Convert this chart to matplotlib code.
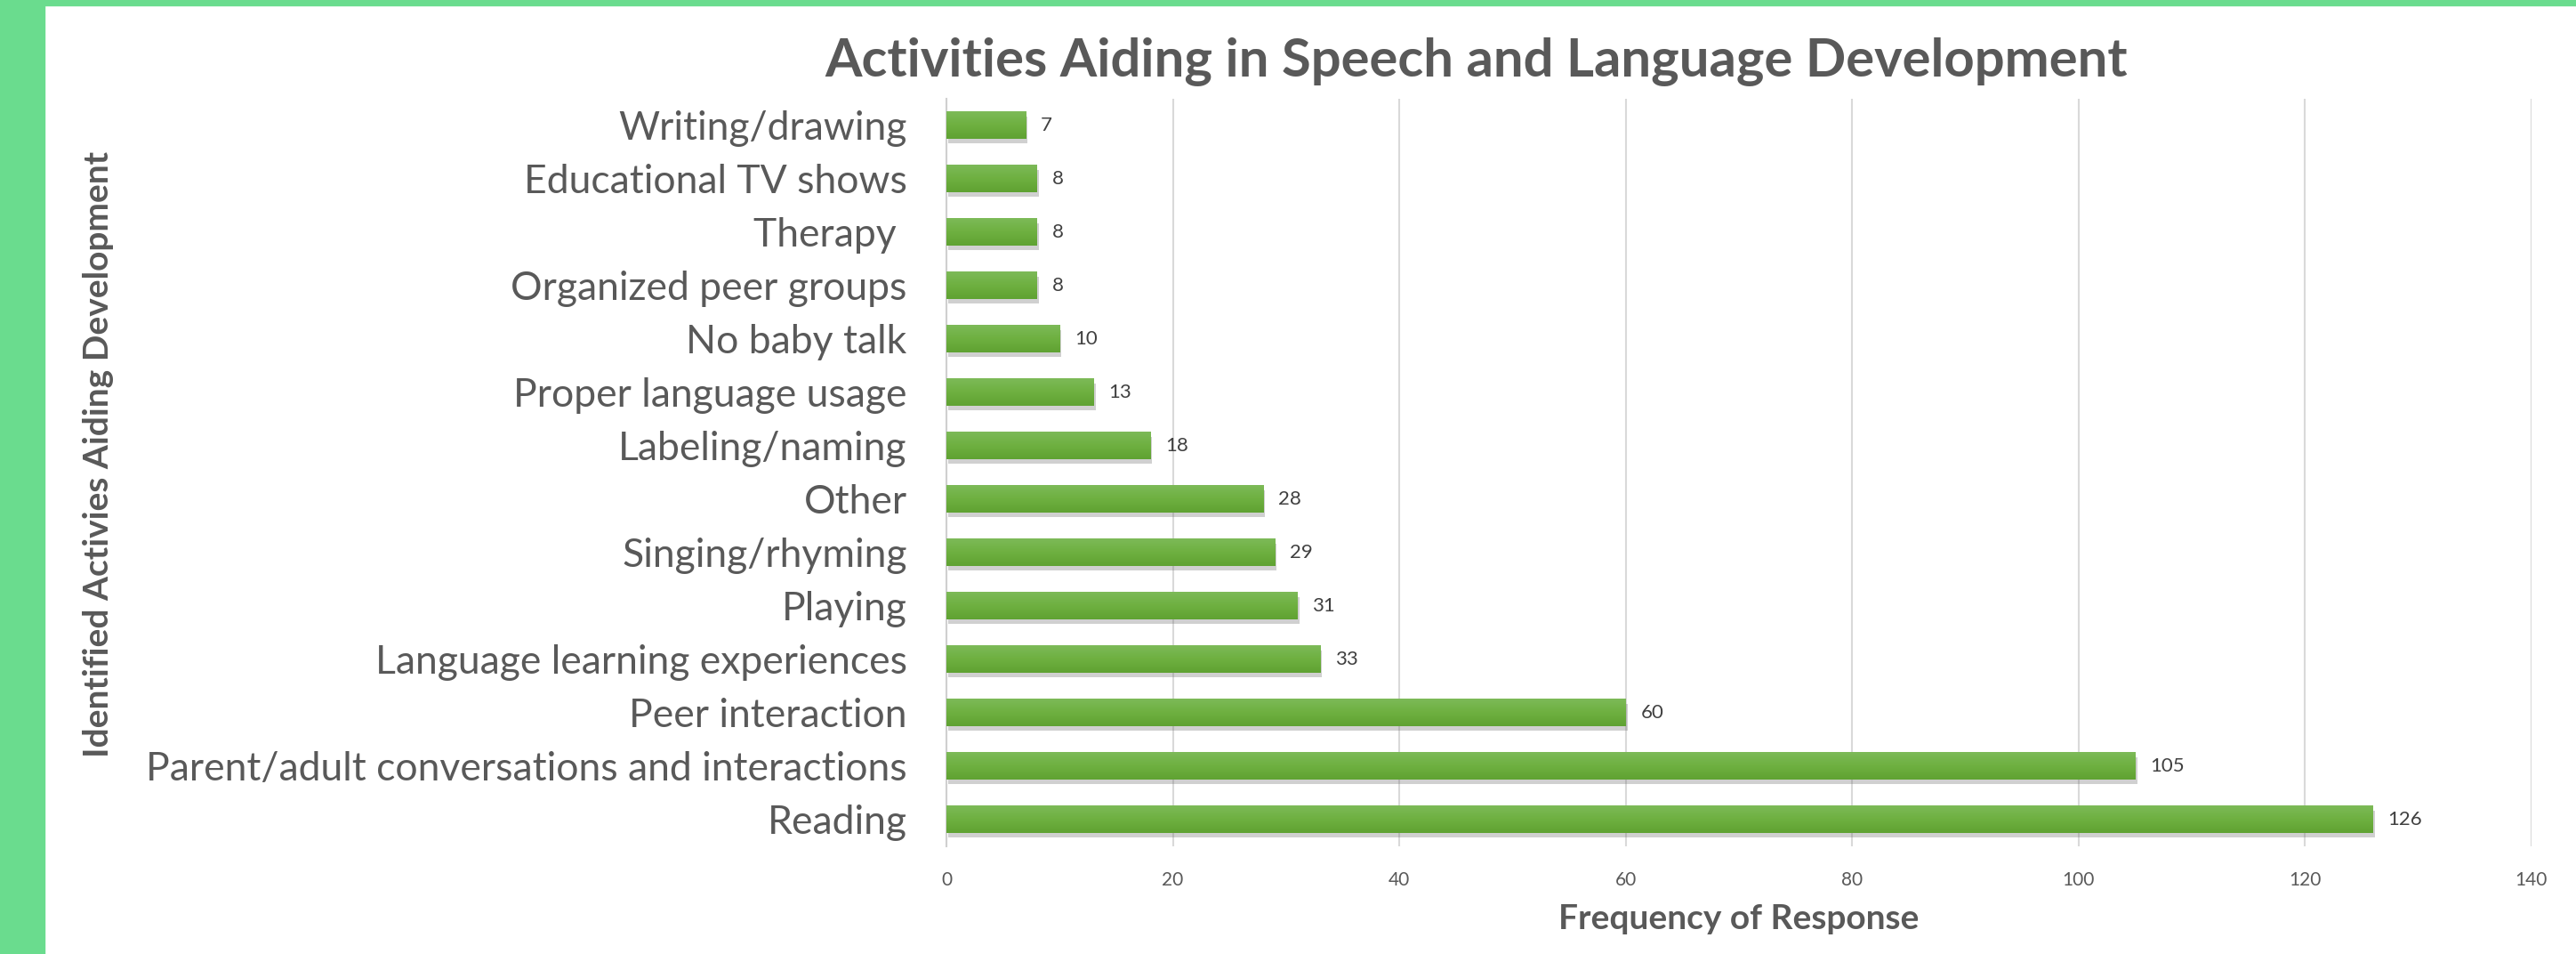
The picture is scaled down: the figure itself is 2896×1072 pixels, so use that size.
import numpy as np
import matplotlib.pyplot as plt
import matplotlib.patheffects as pe
from matplotlib.patches import Rectangle
from matplotlib.colors import LinearSegmentedColormap

# Responses per activity, listed bottom bar first
activities = [
    "Reading",
    "Parent/adult conversations and interactions",
    "Peer interaction",
    "Language learning experiences",
    "Playing",
    "Singing/rhyming",
    "Other",
    "Labeling/naming",
    "Proper language usage",
    "No baby talk",
    "Organized peer groups",
    "Therapy ",
    "Educational TV shows",
    "Writing/drawing",
]
counts = [126, 105, 60, 33, 31, 29, 28, 18, 13, 10, 8, 8, 8, 7]
x_ticks = [0, 20, 40, 60, 80, 100, 120, 140]

plt.rcParams['font.family'] = ['Lato', 'DejaVu Sans']
text_grey = '#595959'
frame_green = '#6adc8e'
bar_cmap = LinearSegmentedColormap.from_list('bar', ['#5fa232', '#6eb040', '#7dba58'])

fig = plt.figure(figsize=(28.96, 10.72), dpi=100)

# green frame along the left and top edge
fig.patches.append(Rectangle((0, 0), 50 / 2896, 1, transform=fig.transFigure,
                             color=frame_green, zorder=0))
fig.patches.append(Rectangle((0, 1 - 6 / 1072), 1, 6 / 1072, transform=fig.transFigure,
                             color=frame_green, zorder=0))

ax = fig.add_axes([0.3674, 0.1129, 0.6153, 0.7836])

pos = range(len(activities))
bars = ax.barh(pos, counts, height=0.51, color='#6aac3d', zorder=3)
grad = np.linspace(0, 1, 64).reshape(-1, 1)
for b in bars:
    b.set_path_effects([pe.SimplePatchShadow(offset=(1.5, -3.5), shadow_rgbFace='#666666', alpha=0.3),
                        pe.Normal()])
    # vertical gradient fill, lighter on top
    x0, y0, w, h = b.get_x(), b.get_y(), b.get_width(), b.get_height()
    ax.imshow(grad, cmap=bar_cmap, extent=(x0, x0 + w, y0, y0 + h), origin='lower',
              aspect='auto', zorder=4, interpolation='bicubic')

for y, v in zip(pos, counts):
    ax.annotate(str(v), (v, y), xytext=(12, 0), textcoords='offset points',
                va='center', ha='left', fontsize=16, color='#404040')

ax.set_xlim(0, 140)
ax.set_ylim(-0.5, len(activities) - 0.5)
ax.set_xticks(x_ticks)
ax.set_xticklabels([str(t) for t in x_ticks], fontsize=15, color=text_grey)
ax.set_yticks(list(pos))
ax.set_yticklabels(activities, fontsize=32, color=text_grey)
ax.tick_params(axis='both', length=0)
ax.tick_params(axis='x', pad=20)
ax.tick_params(axis='y', pad=32)

ax.grid(axis='x', color='#d9d9d9', linewidth=1.5, zorder=0)
for side in ['top', 'right', 'bottom']:
    ax.spines[side].set_visible(False)
ax.spines['left'].set_color('#d0d0d0')
ax.spines['left'].set_linewidth(1.5)

ax.set_xlabel("Frequency of Response", fontsize=28, fontweight='bold',
              color=text_grey, labelpad=12)

fig.text(0.573, 0.935, "Activities Aiding in Speech and Language Development",
         ha='center', va='center', fontsize=43, fontweight='bold', color=text_grey)
fig.text(0.038, 0.524, "Identified Activies Aiding Development", rotation=90,
         ha='center', va='center', fontsize=28, fontweight='bold', color=text_grey)

fig.savefig("out.png", dpi=100)
